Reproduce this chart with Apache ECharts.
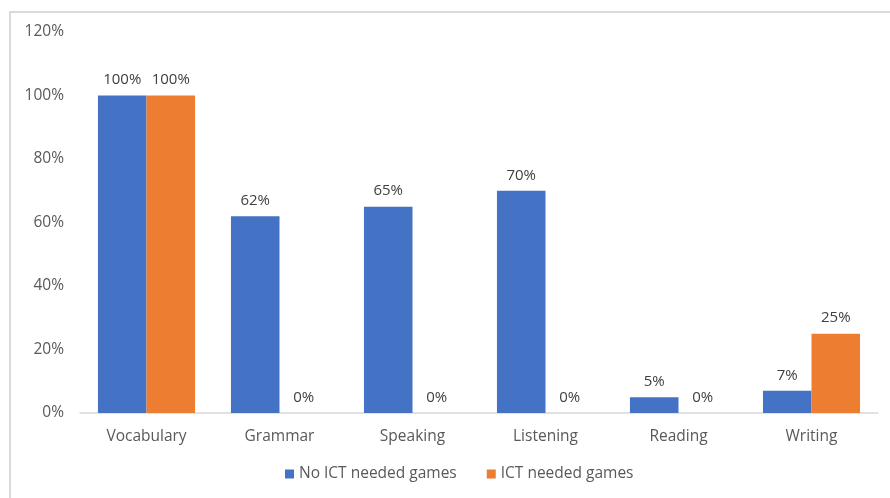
<!DOCTYPE html>
<html><head><meta charset="utf-8">
<script src="https://cdn.jsdelivr.net/npm/echarts@6/dist/echarts.min.js"></script>
<style>html,body{margin:0;padding:0;background:#fff}#c{width:890px;height:498px}</style>
</head><body><div id="c"></div>
<script>
const categories = ['Vocabulary','Grammar','Speaking','Listening','Reading','Writing'];
const noIct = [100,62,65,70,5,7];
const ict = [100,0,0,0,0,25];
const seriesNames = ['No ICT needed games','ICT needed games'];
const font = 'Open Sans, Liberation Sans, sans-serif';
const chart = echarts.init(document.getElementById('c'));
const lbl = {show:true, position:'top', formatter:'{c}%', color:'#404040', fontSize:15, fontFamily:font, distance:8};
chart.setOption({
  animation:false,
  graphic:[{type:'rect', shape:{x:10,y:12,width:900,height:500}, style:{fill:'none', stroke:'#d9d9d9', lineWidth:2}}],
  grid:{left:80, right:12, top:32, bottom:85},
  legend:{bottom:11, left:280, itemWidth:9, itemHeight:9, itemGap:30, icon:'rect',
    textStyle:{color:'#595959', fontSize:15.5, fontFamily:font}, data:seriesNames},
  xAxis:{type:'category', data:categories, axisTick:{show:false},
    axisLine:{lineStyle:{color:'#d9d9d9', width:1.5}},
    axisLabel:{color:'#595959', fontSize:15.5, fontFamily:font, margin:16}},
  yAxis:{type:'value', min:0, max:120, interval:20, splitLine:{show:false},
    axisLabel:{formatter:'{value}%', color:'#595959', fontSize:15.5, fontFamily:font, margin:16}},
  series:[
    {name:seriesNames[0], type:'bar', data:noIct, itemStyle:{color:'#4472c4'}, barGap:'0%', barCategoryGap:'27%', label:lbl},
    {name:seriesNames[1], type:'bar', data:ict, itemStyle:{color:'#ed7d31'}, label:lbl}
  ]
});
</script></body></html>
